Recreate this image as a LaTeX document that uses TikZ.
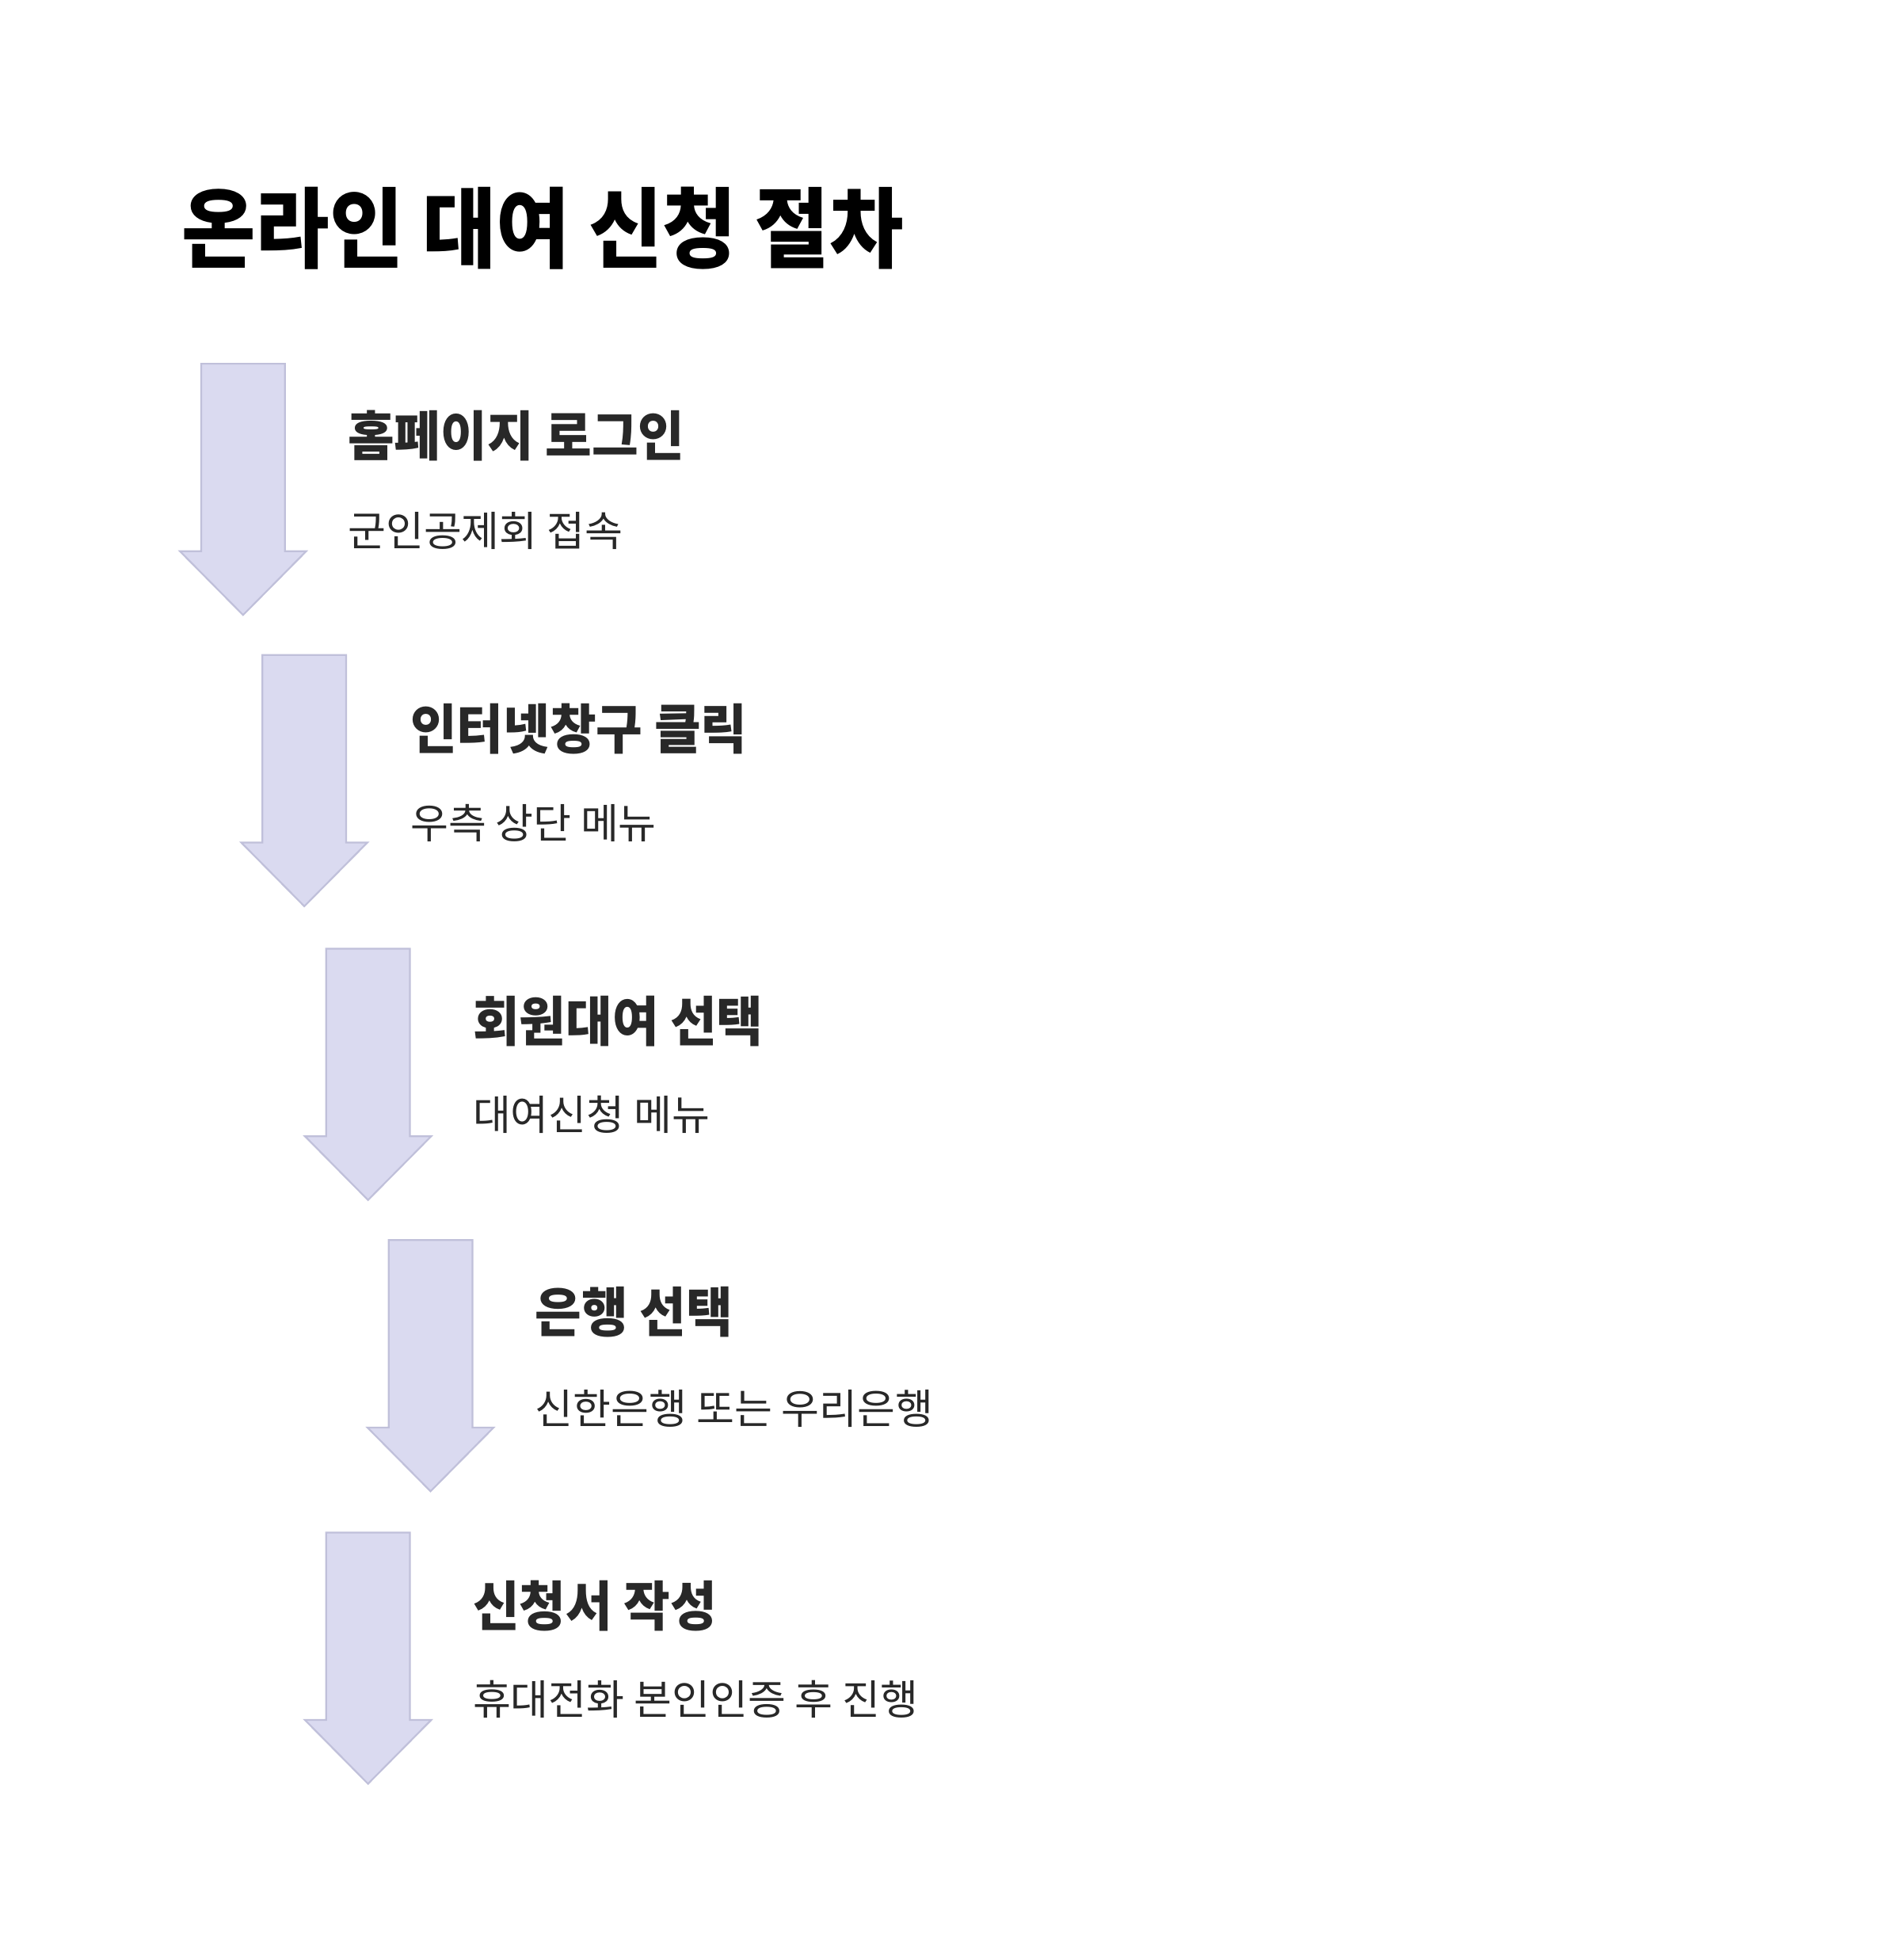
\documentclass[tikz,border=0pt]{standalone}
\usepackage{fontspec}
\newfontfamily\krtitle[FakeStretch=0.92]{Noto Sans CJK KR}
\newfontfamily\krhead[FakeStretch=0.94]{Noto Sans CJK KR}
\newfontfamily\krsub{Noto Sans CJK KR}
\definecolor{arrowfill}{RGB}{218,218,240}
\definecolor{arrowline}{RGB}{192,192,218}
\definecolor{textdark}{RGB}{40,40,40}
\newcommand\flowarrow[2]{%
  \draw[arrowshape] (#1-33.5,#2) -- (#1+33.5,#2) -- (#1+33.5,#2+150) -- (#1+50.5,#2+150)
    -- (#1,#2+201) -- (#1-50.5,#2+150) -- (#1-33.5,#2+150) -- cycle;}
\begin{document}
\begin{tikzpicture}[x=0.5pt,y=-0.5pt,
  arrowshape/.style={fill=arrowfill,draw=arrowline,line width=0.7pt,line join=miter},
  titletext/.style={font=\krtitle\bfseries\fontsize{35}{40}\selectfont,text=black,anchor=base west,inner sep=0pt},
  headtext/.style={font=\krhead\bfseries\fontsize{21.5}{26}\selectfont,text=textdark,anchor=base west,inner sep=0pt},
  subtext/.style={font=\krsub\fontsize{16.5}{20}\selectfont,text=textdark,anchor=base west,inner sep=0pt}]
\useasboundingbox[fill=white] (0,0) rectangle (1521,1568);
\node[titletext] (t) at (145,209) {온라인 대여 신청 절차};
\flowarrow{194.5}{291}
\flowarrow{243.5}{524}
\flowarrow{294.5}{759}
\flowarrow{344.5}{992}
\flowarrow{294.5}{1226}
\node[headtext] (h1) at (278,365) {홈페이지 로그인};
\node[subtext]  (s1) at (278,437) {군인공제회 접속};
\node[headtext] (h2) at (328,599) {인터넷창구 클릭};
\node[subtext]  (s2) at (328,671) {우측 상단 메뉴};
\node[headtext] (h3) at (378,833) {회원대여 선택};
\node[subtext]  (s3) at (378,904) {대여신청 메뉴};
\node[headtext] (h4) at (428,1066) {은행 선택};
\node[subtext]  (s4) at (428,1139) {신한은행 또는 우리은행};
\node[headtext] (h5) at (378,1301) {신청서 작성};
\node[subtext]  (s5) at (378,1372) {휴대전화 본인인증 후 진행};
\end{tikzpicture}
\end{document}
